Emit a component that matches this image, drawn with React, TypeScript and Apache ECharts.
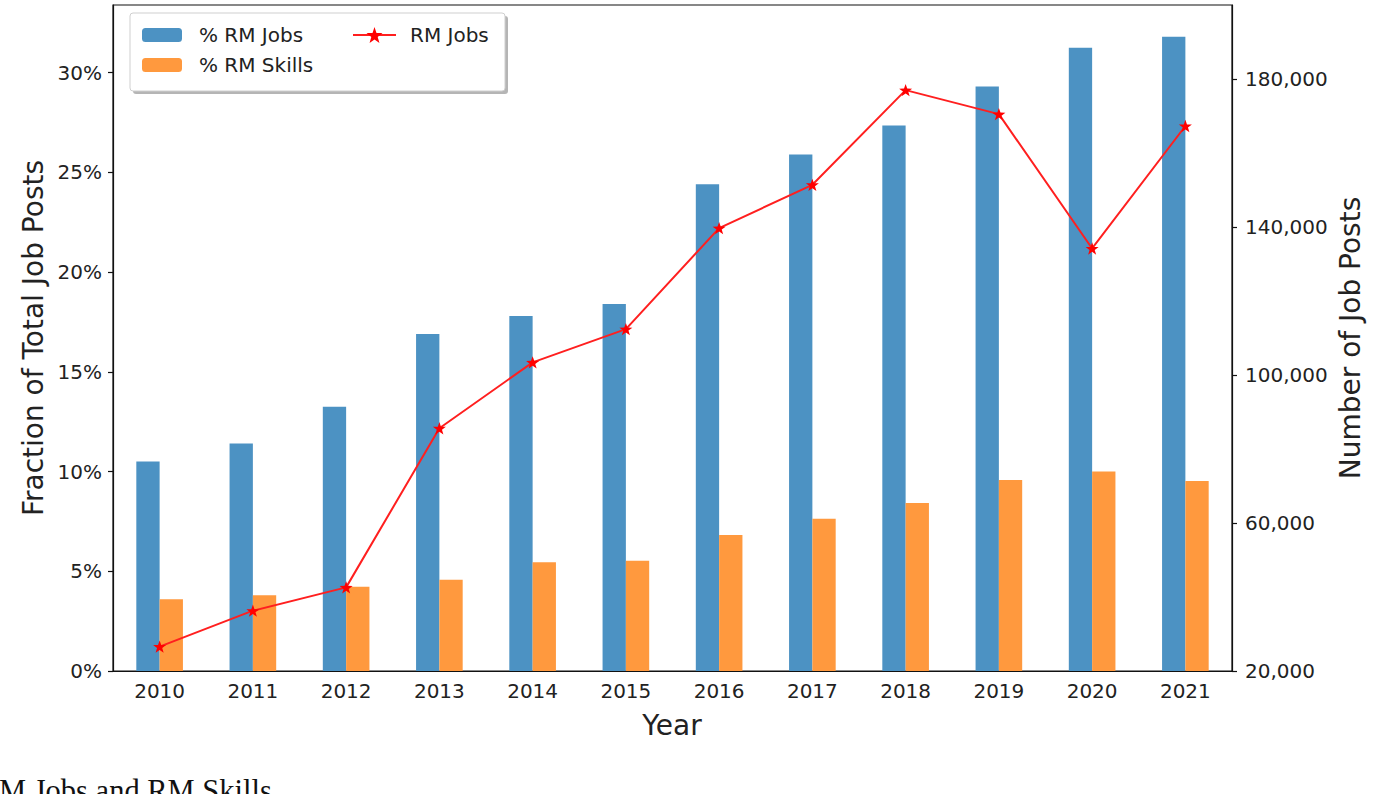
import React, { useEffect, useRef } from "react";
import * as echarts from "echarts";

const years = ["2010", "2011", "2012", "2013", "2014", "2015", "2016", "2017", "2018", "2019", "2020", "2021"];
const rmJobsShare = [10.5, 11.4, 13.25, 16.9, 17.8, 18.4, 24.4, 25.9, 27.35, 29.3, 31.25, 31.8];
const rmSkillsShare = [3.6, 3.8, 4.23, 4.57, 5.45, 5.53, 6.82, 7.63, 8.42, 9.58, 10.0, 9.52];
const rmJobsCount = [26600, 36300, 42600, 85600, 103400, 112400, 139700, 151400, 177000, 170500, 134200, 167300];

const shareTicks = [0, 5, 10, 15, 20, 25, 30];
const countTicks = [20000, 60000, 100000, 140000, 180000];

const FONT = "DejaVu Sans";
const INK = "#222";
const STAR = "path://M0,-10 L2.35,-3.24 L9.51,-3.09 L3.8,1.24 L5.88,8.09 L0,4 L-5.88,8.09 L-3.8,1.24 L-9.51,-3.09 L-2.35,-3.24 Z";

export default function App() {
  const ref = useRef<HTMLDivElement>(null);

  useEffect(() => {
    if (!ref.current) return;
    const chart = echarts.init(ref.current, null, { renderer: "svg" });
    chart.setOption({
      animation: false,
      backgroundColor: "#fff",
      grid: {
        left: 113,
        right: 148,
        top: 5,
        bottom: 123,
        show: true,
        borderColor: "#111",
        borderWidth: 1.2,
        backgroundColor: "transparent",
      },
      legend: [
        {
          data: ["% RM Jobs", "% RM Skills"],
          orient: "vertical",
          left: 142,
          top: 25,
          padding: 0,
          itemWidth: 40,
          itemHeight: 14,
          itemGap: 10,
          z: 10,
          textStyle: { fontFamily: FONT, fontSize: 20, lineHeight: 20, color: INK, padding: [0, 0, 0, 12] },
        },
        {
          data: ["RM Jobs"],
          left: 352,
          top: 25,
          padding: 0,
          itemWidth: 43,
          itemHeight: 20,
          z: 10,
          textStyle: { fontFamily: FONT, fontSize: 20, lineHeight: 20, color: INK, padding: [0, 0, 0, 9] },
        },
      ],
      xAxis: {
        type: "category",
        data: years,
        boundaryGap: true,
        axisLine: { lineStyle: { color: "#111", width: 1.2 } },
        axisTick: { alignWithLabel: true, length: 5, lineStyle: { color: "#111", width: 1.2 } },
        axisLabel: { fontFamily: FONT, fontSize: 20, color: INK, margin: 10 },
      },
      yAxis: [
        {
          type: "value",
          min: 0,
          max: 33.39,
          position: "left",
          splitLine: { show: false },
          axisLine: { show: true, lineStyle: { color: "#111", width: 1.2 } },
          axisTick: { show: true, length: 5, customValues: shareTicks, lineStyle: { color: "#111", width: 1.2 } },
          axisLabel: {
            customValues: shareTicks,
            fontFamily: FONT,
            fontSize: 20,
            color: INK,
            margin: 11,
            formatter: (v: number) => `${v}%`,
          },
        },
        {
          type: "value",
          min: 20000,
          max: 200000,
          position: "right",
          splitLine: { show: false },
          axisLine: { show: true, lineStyle: { color: "#111", width: 1.2 } },
          axisTick: { show: true, length: 5, customValues: countTicks, lineStyle: { color: "#111", width: 1.2 } },
          axisLabel: {
            customValues: countTicks,
            fontFamily: FONT,
            fontSize: 20,
            color: INK,
            margin: 13,
            formatter: (v: number) => v.toLocaleString("en-US"),
          },
        },
      ],
      series: [
        {
          name: "% RM Jobs",
          type: "bar",
          data: rmJobsShare,
          barWidth: "25%",
          barGap: "0%",
          itemStyle: { color: "#4c92c3" },
        },
        {
          name: "% RM Skills",
          type: "bar",
          data: rmSkillsShare,
          barWidth: "25%",
          barGap: "0%",
          itemStyle: { color: "#ff993e" },
        },
        {
          name: "RM Jobs",
          type: "line",
          yAxisIndex: 1,
          data: rmJobsCount,
          symbol: STAR,
          symbolSize: 13,
          symbolKeepAspect: true,
          z: 5,
          lineStyle: { color: "#ff1f1f", width: 2 },
          itemStyle: { color: "#ff0000" },
        },
      ],
      graphic: [
        {
          type: "rect",
          z: 5,
          shape: { x: 133, y: 16, width: 375, height: 78, r: 3 },
          style: { fill: "rgba(120,120,120,0.55)" },
        },
        {
          type: "rect",
          z: 6,
          shape: { x: 130, y: 13, width: 375, height: 78, r: 3 },
          style: { fill: "#fff", stroke: "#cfcfcf", lineWidth: 1 },
        },
        {
          type: "text",
          x: 33,
          y: 338,
          rotation: Math.PI / 2,
          style: { text: "Fraction of Total Job Posts", fontFamily: FONT, fontSize: 28, fill: INK, align: "center", verticalAlign: "middle" },
        },
        {
          type: "text",
          x: 1350,
          y: 338,
          rotation: Math.PI / 2,
          style: { text: "Number of Job Posts", fontFamily: FONT, fontSize: 28, fill: INK, align: "center", verticalAlign: "middle" },
        },
        {
          type: "text",
          x: 672,
          y: 725,
          style: { text: "Year", fontFamily: FONT, fontSize: 28, fill: INK, align: "center", verticalAlign: "middle" },
        },
        {
          type: "text",
          x: -1,
          y: 791,
          style: { text: "M Jobs and RM Skills", fontFamily: "Liberation Serif", fontSize: 30.5, fill: "#111", align: "left", verticalAlign: "middle" },
        },
      ],
    });
    return () => chart.dispose();
  }, []);

  return <div ref={ref} style={{ position: "fixed", left: 0, top: 0, width: 1380, height: 794 }} />;
}
